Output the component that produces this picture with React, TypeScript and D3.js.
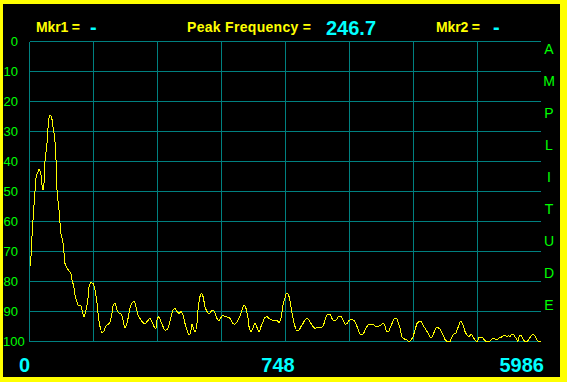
import React from "react";
import * as d3 from "d3";

const W = 567;
const H = 382;

// amplitude axis ticks (0 top .. 100 bottom)
const ampTicks = [0, 10, 20, 30, 40, 50, 60, 70, 80, 90, 100];
const vGridCount = 8;
const sideLetters = ["A", "M", "P", "L", "I", "T", "U", "D", "E"];
const bottomLabels = ["0", "748", "5986"];
const headerLabels = ["Mkr1 =", "Peak Frequency =", "Mkr2 ="];
const peakFrequency = "246.7";
const mkrValue = "-";

// spectrum: frequency bins (0..512) and amplitude values
const bins = [
  0, 1, 2, 3, 4, 5, 6, 8, 9, 11, 12, 13, 14, 15, 17, 18, 19, 20, 22, 23, 25, 26, 27, 29, 30, 31, 33, 34, 35, 37,
  39, 41, 42, 44, 45, 47, 48, 51, 52, 54, 56, 58, 59, 61, 63, 65, 67, 68, 70, 72, 74, 76, 78, 80, 82, 83, 85, 87,
  89, 91, 93, 95, 97, 99, 101, 104, 106, 108, 110, 112, 115, 117, 120, 122, 124, 126, 127, 129, 131, 133, 135, 137,
  139, 141, 143, 145, 147, 149, 151, 153, 155, 157, 159, 161, 162, 164, 165, 167, 168, 170, 171, 173, 175, 177, 179,
  181, 183, 185, 187, 189, 191, 193, 195, 199, 201, 203, 205, 207, 209, 211, 213, 214, 216, 218, 219, 221, 223, 225,
  227, 229, 231, 233, 235, 237, 239, 242, 245, 247, 249, 251, 253, 255, 256, 257, 259, 261, 263, 265, 267, 269, 271,
  273, 275, 277, 279, 281, 283, 285, 287, 290, 292, 294, 296, 298, 300, 302, 304, 306, 309, 311, 313, 315, 317, 319,
  321, 323, 325, 327, 329, 331, 333, 335, 337, 339, 343, 345, 348, 351, 353, 355, 356, 358, 360, 362, 364, 366, 368,
  370, 372, 375, 377, 379, 381, 383, 385, 387, 389, 391, 393, 395, 397, 399, 401, 403, 405, 407, 409, 411, 413, 415,
  418, 420, 422, 424, 426, 427, 429, 430, 431, 433, 435, 437, 439, 441, 443, 445, 447, 449, 451, 453, 455, 457, 459,
  461, 463, 465, 467, 469, 471, 473, 475, 477, 479, 480, 481, 483, 485, 487, 488, 489, 491, 492, 495, 497, 499, 501,
  503, 505, 507, 509, 511,
];
const amplitude = [
  75, 71.7, 65, 59.5, 54.5, 50, 45.5, 43.4, 42.6, 44.5, 47.8, 49.5, 47.2, 40, 34, 29, 25.6, 24.5, 26, 28.4, 33.4,
  39.5, 49.5, 56, 60.5, 64, 67, 70.5, 74, 75.5, 76.5, 77.5, 79.5, 82, 84.5, 86.7, 87.8, 88.2, 89.5, 91.7, 89.5,
  85.6, 81.7, 80.4, 80.6, 82.8, 87.2, 90.6, 95, 97, 96.4, 94.8, 94.3, 93.4, 90.6, 88.2, 87.3, 89.5, 90.6, 90.8,
  92.8, 95.4, 94, 90.6, 87.8, 86.6, 88.4, 91.2, 92.3, 93.4, 94, 93.4, 92.3, 93.4, 95, 95.6, 92.8, 91.7, 93.4, 95,
  96.2, 96, 94.5, 91.7, 89.5, 89, 90, 90.6, 90, 91.2, 94, 96.2, 97.8, 96.2, 94.2, 96.2, 96.7, 94, 89.5, 85, 84, 85,
  88.4, 90, 90.8, 90, 89.5, 90.4, 92.3, 93, 92, 91.2, 91.7, 92, 92.8, 94, 94.2, 93.4, 92.3, 90.6, 88.4, 87.8, 89,
  92.3, 95, 96.7, 95.6, 94, 95.3, 96.9, 95, 93.4, 92, 91.7, 92.3, 92.8, 93, 93, 93.6, 92.3, 87.8, 85.6, 84.2, 84, 85,
  88.4, 92.3, 95, 96.5, 96.2, 95, 94, 92.8, 92.3, 92.8, 94, 95, 95.6, 95.4, 95.4, 95.3, 94, 91.7, 91, 91, 92.3, 93,
  92.8, 91.7, 91.7, 92.8, 94.2, 94, 93, 92.8, 92.8, 93.4, 95, 96.7, 97.8, 97.6, 96.2, 95, 94.2, 94.3, 94.8, 95, 94.5,
  94, 94.8, 96.2, 96.9, 95.6, 94, 92.6, 92.2, 93.4, 95.6, 98.4, 99.3, 99.5, 100, 99.5, 98.4, 96.2, 94, 93.4, 93.2,
  94.5, 95.6, 96.7, 97.8, 98.9, 97.8, 96.2, 95.3, 95.6, 96.4, 97.8, 99.3, 100, 100, 98.4, 97.5, 97.1, 96.2, 94.5,
  93.4, 93.2, 94.5, 96.7, 97.8, 98.4, 97.6, 98.4, 99.5, 100, 98.7, 98.6, 98.9, 99.7, 100, 100, 99.5, 98.9, 99.2,
  99.5, 98.9, 98.6, 98.2, 98.1, 98.2, 98.1, 98.4, 97.8, 97.6, 98.4, 99.5, 100, 98.4, 97.8, 98.4, 100, 100, 99.2, 98.2,
  97.5, 98.2, 99.5, 100, 100, 100,
];

const YELLOW = "#ffff00";
const GREEN = "#00ff00";
const CYAN = "#00ffff";
const GRID = "#008080";
const FONT = "'Liberation Sans', Arial, sans-serif";

export default function App() {
  const x = d3.scaleLinear().domain([0, 512]).range([30, 542]);
  const y = d3.scaleLinear().domain([0, 100]).range([41.5, 341.5]);
  const gx = d3.scaleLinear().domain([0, vGridCount]).range([29.5, 541.5]);

  const pts: [number, number][] = bins.map((b, i) => [b, amplitude[i]]);
  const line = d3
    .line<[number, number]>()
    .x((d) => x(d[0]))
    .y((d) => y(d[1]))
    .curve(d3.curveMonotoneX);

  const letterY = d3.scaleLinear().domain([0, sideLetters.length - 1]).range([49, 305]);

  return (
    <svg
      width={W}
      height={H}
      style={{ position: "fixed", left: 0, top: 0, display: "block" }}
      fontFamily={FONT}
    >
      <rect x={0} y={0} width={W} height={H} fill={YELLOW} />
      <rect x={3} y={4} width={557} height={373} fill="#000" />

      {/* grid */}
      {ampTicks.map((t) => (
        <line key={"h" + t} x1={29.5} x2={541} y1={y(t)} y2={y(t)} stroke={GRID} strokeWidth={1} shapeRendering="crispEdges" />
      ))}
      {d3.range(vGridCount).map((i) => (
        <line key={"v" + i} x1={gx(i)} x2={gx(i)} y1={41.5} y2={341.5} stroke={GRID} strokeWidth={1} shapeRendering="crispEdges" />
      ))}

      {/* y labels */}
      {ampTicks.map((t) => (
        <text
          key={"l" + t}
          x={t === 100 ? 3 : 18}
          y={y(t) + 4.5}
          textAnchor={t === 100 ? "start" : "end"}
          fill={GREEN}
          fontSize={13}
        >
          {t}
        </text>
      ))}

      {/* right side letters */}
      {sideLetters.map((c, i) => (
        <text key={"s" + i} x={549} y={letterY(i) + 5} textAnchor="middle" fill={GREEN} fontSize={14}>
          {c}
        </text>
      ))}

      {/* spectrum */}
      <path d={line(pts) || ""} fill="none" stroke={YELLOW} strokeWidth={1} shapeRendering="crispEdges" />

      {/* header */}
      <text x={36} y={32} fill={YELLOW} fontSize={14} fontWeight="bold" textLength={44}>
        {headerLabels[0]}
      </text>
      <text x={90} y={34} fill={CYAN} fontSize={20} fontWeight="bold">
        {mkrValue}
      </text>
      <text x={187} y={32} fill={YELLOW} fontSize={14} fontWeight="bold" textLength={124}>
        {headerLabels[1]}
      </text>
      <text x={326} y={35} fill={CYAN} fontSize={20} fontWeight="bold">
        {peakFrequency}
      </text>
      <text x={436} y={32} fill={YELLOW} fontSize={14} fontWeight="bold" textLength={44}>
        {headerLabels[2]}
      </text>
      <text x={493} y={34} fill={CYAN} fontSize={20} fontWeight="bold">
        {mkrValue}
      </text>

      {/* bottom labels */}
      <text x={19} y={372} fill={CYAN} fontSize={20} fontWeight="bold">
        {bottomLabels[0]}
      </text>
      <text x={278} y={372} textAnchor="middle" fill={CYAN} fontSize={20} fontWeight="bold">
        {bottomLabels[1]}
      </text>
      <text x={544} y={372} textAnchor="end" fill={CYAN} fontSize={20} fontWeight="bold">
        {bottomLabels[2]}
      </text>
    </svg>
  );
}
